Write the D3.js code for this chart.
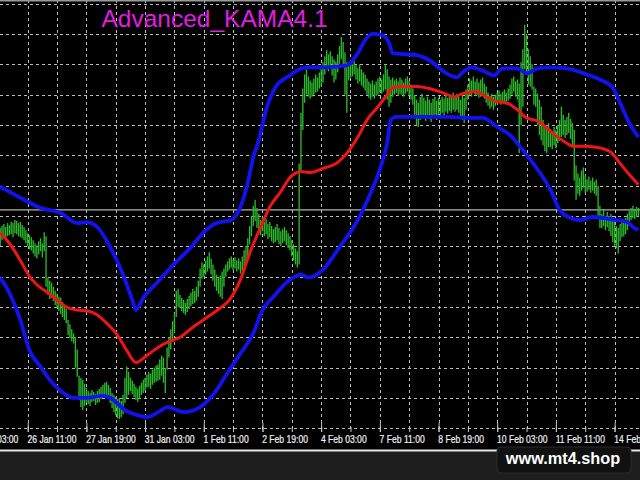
<!DOCTYPE html>
<html><head><meta charset="utf-8">
<script src="https://cdn.jsdelivr.net/npm/d3@7/dist/d3.min.js"></script>
<style>html,body{margin:0;padding:0;background:#000;overflow:hidden}</style>
</head><body><svg id="c" width="640" height="480"></svg>
<script>
// EURUSD H1 bars (high / low), one per hour, left to right
const highs = [
1.1298,1.1300,1.1302,1.1299,1.1303,1.1301,1.1304,1.1303,1.1306,1.1305,
1.1303,1.1304,1.1301,1.1299,1.1296,1.1293,1.1291,1.1289,1.1286,1.1283,
1.1281,1.1285,1.1288,1.1283,1.1294,1.1290,1.1249,1.1246,1.1244,1.1240,
1.1236,1.1233,1.1230,1.1229,1.1225,1.1221,1.1218,1.1207,1.1203,1.1198,
1.1194,1.1190,1.1178,1.1152,1.1150,1.1148,1.1144,1.1140,1.1137,1.1135,
1.1138,1.1136,1.1134,1.1137,1.1139,1.1141,1.1143,1.1145,1.1146,1.1143,
1.1140,1.1135,1.1133,1.1131,1.1129,1.1130,1.1127,1.1133,1.1150,1.1161,
1.1156,1.1150,1.1147,1.1144,1.1141,1.1139,1.1142,1.1145,1.1148,1.1150,
1.1153,1.1156,1.1154,1.1158,1.1160,1.1162,1.1163,1.1168,1.1172,1.1170,
1.1160,1.1180,1.1190,1.1198,1.1206,1.1214,1.1236,1.1238,1.1232,1.1229,
1.1227,1.1224,1.1228,1.1231,1.1234,1.1238,1.1236,1.1240,1.1246,1.1258,
1.1264,1.1262,1.1266,1.1270,1.1274,1.1268,1.1262,1.1257,1.1252,1.1249,
1.1251,1.1255,1.1258,1.1262,1.1265,1.1268,1.1270,1.1267,1.1269,1.1266,
1.1268,1.1265,1.1270,1.1276,1.1280,1.1288,1.1300,1.1310,1.1320,1.1326,
1.1318,1.1312,1.1306,1.1309,1.1304,1.1307,1.1302,1.1304,1.1300,1.1297,
1.1299,1.1302,1.1298,1.1295,1.1297,1.1299,1.1296,1.1293,1.1290,1.1286,
1.1282,1.1278,1.1275,1.1362,1.1412,1.1436,1.1450,1.1455,1.1448,1.1444,
1.1442,1.1446,1.1450,1.1447,1.1452,1.1458,1.1462,1.1468,1.1474,1.1470,
1.1473,1.1468,1.1465,1.1463,1.1470,1.1478,1.1487,1.1482,1.1472,1.1462,
1.1458,1.1463,1.1460,1.1464,1.1459,1.1456,1.1460,1.1455,1.1452,1.1450,
1.1446,1.1443,1.1441,1.1444,1.1440,1.1443,1.1446,1.1448,1.1445,1.1450,
1.1460,1.1455,1.1448,1.1445,1.1447,1.1444,1.1446,1.1443,1.1447,1.1445,
1.1442,1.1446,1.1448,1.1444,1.1440,1.1436,1.1430,1.1425,1.1422,1.1428,
1.1431,1.1427,1.1424,1.1428,1.1425,1.1422,1.1426,1.1428,1.1424,1.1427,
1.1425,1.1428,1.1426,1.1429,1.1427,1.1430,1.1428,1.1432,1.1429,1.1431,
1.1428,1.1425,1.1430,1.1427,1.1435,1.1440,1.1446,1.1444,1.1448,1.1443,
1.1446,1.1442,1.1445,1.1447,1.1441,1.1438,1.1432,1.1429,1.1431,1.1428,
1.1430,1.1432,1.1434,1.1431,1.1433,1.1435,1.1432,1.1436,1.1440,1.1446,
1.1448,1.1443,1.1445,1.1441,1.1462,1.1475,1.1499,1.1490,1.1475,1.1468,
1.1460,1.1438,1.1436,1.1431,1.1425,1.1418,1.1405,1.1400,1.1398,1.1402,
1.1396,1.1394,1.1398,1.1395,1.1400,1.1405,1.1418,1.1410,1.1405,1.1408,
1.1412,1.1406,1.1402,1.1395,1.1360,1.1352,1.1348,1.1355,1.1358,1.1350,
1.1346,1.1349,1.1345,1.1348,1.1344,1.1346,1.1340,1.1320,1.1312,1.1316,
1.1310,1.1314,1.1310,1.1312,1.1305,1.1308,1.1300,1.1298,1.1302,1.1306,
1.1303,1.1308,1.1312,1.1315,1.1318,1.1320,1.1317,1.1319,1.1318];
const lows = [
1.1280,1.1286,1.1289,1.1287,1.1290,1.1291,1.1292,1.1289,1.1293,1.1292,
1.1290,1.1289,1.1288,1.1286,1.1283,1.1280,1.1277,1.1276,1.1273,1.1270,
1.1268,1.1272,1.1275,1.1269,1.1275,1.1240,1.1232,1.1228,1.1229,1.1226,
1.1222,1.1219,1.1216,1.1213,1.1210,1.1207,1.1204,1.1192,1.1189,1.1186,
1.1184,1.1160,1.1151,1.1128,1.1121,1.1118,1.1122,1.1125,1.1124,1.1122,
1.1126,1.1127,1.1123,1.1125,1.1126,1.1129,1.1130,1.1132,1.1131,1.1130,
1.1125,1.1120,1.1116,1.1113,1.1110,1.1109,1.1111,1.1114,1.1125,1.1130,
1.1133,1.1137,1.1134,1.1131,1.1128,1.1126,1.1129,1.1133,1.1135,1.1137,
1.1140,1.1141,1.1139,1.1143,1.1145,1.1146,1.1147,1.1148,1.1152,1.1145,
1.1135,1.1158,1.1170,1.1178,1.1186,1.1195,1.1210,1.1220,1.1219,1.1216,
1.1214,1.1212,1.1215,1.1218,1.1221,1.1223,1.1224,1.1226,1.1230,1.1240,
1.1248,1.1250,1.1252,1.1255,1.1258,1.1252,1.1246,1.1240,1.1236,1.1233,
1.1230,1.1228,1.1240,1.1250,1.1255,1.1257,1.1259,1.1256,1.1258,1.1255,
1.1257,1.1253,1.1256,1.1260,1.1265,1.1270,1.1282,1.1290,1.1300,1.1305,
1.1298,1.1294,1.1291,1.1295,1.1290,1.1292,1.1287,1.1289,1.1285,1.1283,
1.1284,1.1286,1.1282,1.1280,1.1283,1.1285,1.1281,1.1278,1.1276,1.1270,
1.1266,1.1262,1.1259,1.1262,1.1355,1.1395,1.1422,1.1430,1.1428,1.1426,
1.1428,1.1430,1.1432,1.1433,1.1436,1.1438,1.1442,1.1450,1.1455,1.1453,
1.1456,1.1449,1.1442,1.1445,1.1452,1.1460,1.1465,1.1460,1.1430,1.1412,
1.1444,1.1447,1.1448,1.1450,1.1445,1.1441,1.1443,1.1439,1.1437,1.1434,
1.1430,1.1427,1.1425,1.1428,1.1426,1.1429,1.1430,1.1432,1.1431,1.1433,
1.1435,1.1425,1.1418,1.1422,1.1428,1.1430,1.1432,1.1429,1.1431,1.1430,
1.1428,1.1431,1.1433,1.1429,1.1425,1.1420,1.1410,1.1400,1.1398,1.1405,
1.1410,1.1408,1.1404,1.1410,1.1406,1.1403,1.1407,1.1410,1.1405,1.1409,
1.1410,1.1412,1.1409,1.1413,1.1411,1.1414,1.1412,1.1415,1.1413,1.1415,
1.1412,1.1408,1.1405,1.1402,1.1415,1.1425,1.1430,1.1428,1.1432,1.1429,
1.1430,1.1427,1.1428,1.1430,1.1426,1.1422,1.1419,1.1416,1.1418,1.1415,
1.1419,1.1421,1.1423,1.1420,1.1422,1.1423,1.1420,1.1424,1.1426,1.1430,
1.1433,1.1428,1.1425,1.1372,1.1400,1.1418,1.1455,1.1450,1.1440,1.1438,
1.1435,1.1420,1.1418,1.1400,1.1390,1.1385,1.1380,1.1374,1.1372,1.1378,
1.1378,1.1376,1.1380,1.1377,1.1382,1.1384,1.1388,1.1390,1.1387,1.1390,
1.1392,1.1386,1.1380,1.1345,1.1326,1.1332,1.1330,1.1335,1.1338,1.1333,
1.1334,1.1336,1.1333,1.1335,1.1332,1.1330,1.1310,1.1298,1.1298,1.1300,
1.1296,1.1299,1.1295,1.1290,1.1284,1.1280,1.1278,1.1273,1.1285,1.1289,
1.1290,1.1292,1.1296,1.1300,1.1306,1.1308,1.1307,1.1309,1.1310];

// KAMA (red) sampled at bar indices
const kamaBars = [0,5,11,16,20,26,31,36,42,48,53,58,64,69,74,80,86,91,98,105,113,120,125,131,136,142,147,153,158,164,169,176,184,189,195,200,206,211,214,220,227,234,241,248,252,260,263,271,276,282,287,293,298,304,309,312,318,325,333,338,343,348];
const kamaValues = [1.1293,1.1283,1.1266,1.1250,1.1242,1.1234,1.1227,1.1220,1.1217,1.1216,1.1212,1.1204,1.1192,1.1177,1.1165,1.1172,1.1180,1.1185,1.1190,1.1200,1.1210,1.1219,1.1227,1.1247,1.1273,1.1299,1.1319,1.1334,1.1348,1.1354,1.1353,1.1357,1.1363,1.1372,1.1388,1.1405,1.1418,1.1430,1.1437,1.1438,1.1438,1.1436,1.1432,1.1428,1.1431,1.1433,1.1430,1.1423,1.1422,1.1415,1.1407,1.1404,1.1397,1.1388,1.1382,1.1379,1.1379,1.1378,1.1373,1.1362,1.1351,1.1341];

// Upper band (blue)
const upperBars = [0,11,22,33,42,47,53,60,67,72,74,78,86,94,104,111,118,126,131,135,138,141,145,150,158,162,167,176,189,195,199,203,208,212,214,220,227,234,241,249,252,257,263,269,274,282,287,293,300,309,318,327,334,338,343,348];
const upperValues = [1.1339,1.1328,1.1318,1.1313,1.1303,1.1304,1.1299,1.1279,1.1252,1.1227,1.1217,1.1229,1.1245,1.1261,1.1279,1.1294,1.1303,1.1306,1.1319,1.1343,1.1368,1.1385,1.1415,1.1437,1.1449,1.1454,1.1457,1.1457,1.1459,1.1471,1.1484,1.1490,1.1489,1.1481,1.1471,1.1470,1.1469,1.1464,1.1454,1.1447,1.1452,1.1457,1.1454,1.1449,1.1456,1.1456,1.1451,1.1456,1.1457,1.1456,1.1451,1.1445,1.1437,1.1422,1.1402,1.1388];

// Lower band (blue)
const lowerBars = [0,5,11,16,22,27,33,40,47,56,61,68,75,80,87,91,100,109,116,124,131,138,143,149,156,164,168,176,185,195,202,207,211,213,216,230,245,256,263,271,278,285,293,300,305,311,316,323,329,336,342,345,348];
const lowerValues = [1.1249,1.1234,1.1207,1.1177,1.1161,1.1148,1.1137,1.1130,1.1130,1.1132,1.1129,1.1118,1.1113,1.1111,1.1117,1.1121,1.1116,1.1121,1.1133,1.1155,1.1174,1.1194,1.1217,1.1230,1.1244,1.1252,1.1249,1.1257,1.1279,1.1306,1.1333,1.1356,1.1382,1.1405,1.1408,1.1408,1.1408,1.1407,1.1407,1.1398,1.1390,1.1375,1.1356,1.1336,1.1316,1.1308,1.1306,1.1309,1.1308,1.1306,1.1304,1.1299,1.1296];

const tickBars = [-17,15,47,79,111,143,175,207,239,271,303,335];
const tickLabels = ["25 Jan 03:00","26 Jan 11:00","27 Jan 19:00","31 Jan 03:00","1 Feb 11:00","2 Feb 19:00","4 Feb 03:00","7 Feb 11:00","8 Feb 19:00","10 Feb 03:00","11 Feb 11:00","14 Feb 19:00"];
const gridPrices = [1.1100,1.1130,1.1160,1.1190,1.1220,1.1250,1.1280,1.1310,1.1340,1.1370,1.1400,1.1430,1.1460,1.1490,1.1520];
const bidPrice = 1.1316;
const titleText = "Advanced_KAMA4.1";
const watermarkText = "www.mt4.shop";

const svg = d3.select("#c");
const W = 640, plotBottom = 432;
const x = d3.scaleLinear().domain([0, 348]).range([0.2, 0.2 + 348 * 1.834]);
const y = d3.scaleLinear().domain([1.1100, 1.15236]).range([428.3, 0]);

svg.append("rect").attr("width", W).attr("height", 480).attr("fill", "#000");
svg.append("rect").attr("y", 451).attr("width", W).attr("height", 29).attr("fill", "#1e1e1e");

const clip = svg.append("defs").append("clipPath").attr("id", "pc");
clip.append("rect").attr("width", W).attr("height", plotBottom);
const g = svg.append("g").attr("clip-path", "url(#pc)");

// grid
const gridBars = d3.range(-1, 352, 16);
g.selectAll("line.hg").data(gridPrices).join("line")
  .attr("x1", 0).attr("x2", W).attr("y1", d => Math.round(y(d)) + 0.5).attr("y2", d => Math.round(y(d)) + 0.5)
  .attr("stroke", "#bdbdbd").attr("stroke-width", 1).attr("stroke-dasharray", "3,3");
g.selectAll("line.vg").data(gridBars).join("line")
  .attr("x1", d => Math.round(x(d)) + 0.5).attr("x2", d => Math.round(x(d)) + 0.5)
  .attr("y1", 0).attr("y2", plotBottom)
  .attr("stroke", "#bdbdbd").attr("stroke-width", 1).attr("stroke-dasharray", "3,3");

// bid line
g.append("line").attr("x1", 0).attr("x2", W)
  .attr("y1", y(bidPrice)).attr("y2", y(bidPrice))
  .attr("stroke", "#b4b4b4").attr("stroke-width", 1.2);

// bars
g.selectAll("line.bar").data(highs).join("line")
  .attr("x1", (d, i) => x(i)).attr("x2", (d, i) => x(i))
  .attr("y1", d => y(d)).attr("y2", (d, i) => y(lows[i]))
  .attr("stroke", "#2cb82c").attr("stroke-width", 1.35);

// indicator lines
const line = d3.line().x(d => x(d[0])).y(d => y(d[1])).curve(d3.curveMonotoneX);
g.append("path").datum(upperBars.map((b, i) => [b, upperValues[i]]))
  .attr("d", line).attr("fill", "none").attr("stroke", "#1212ee").attr("stroke-width", 3.8).attr("stroke-linejoin", "round");
g.append("path").datum(lowerBars.map((b, i) => [b, lowerValues[i]]))
  .attr("d", line).attr("fill", "none").attr("stroke", "#1212ee").attr("stroke-width", 3.8).attr("stroke-linejoin", "round");
g.append("path").datum(kamaBars.map((b, i) => [b, kamaValues[i]]))
  .attr("d", line).attr("fill", "none").attr("stroke", "#f01414").attr("stroke-width", 3).attr("stroke-linejoin", "round");

// top border
svg.append("line").attr("x1", 0).attr("x2", W).attr("y1", 0.5).attr("y2", 0.5).attr("stroke", "#9a9a9a").attr("stroke-width", 2);

// title
svg.append("text").attr("x", 101.5).attr("y", 26.7).text(titleText)
  .attr("font-family", "'Liberation Sans', Arial, sans-serif").attr("font-size", 24.5).attr("fill", "#e21ee2");

// minor ticks at grid positions
const minorAxis = d3.axisBottom(x).tickValues(gridBars).tickSize(-5).tickFormat("");
const ma = svg.append("g").attr("transform", `translate(0,${plotBottom})`).call(minorAxis);
ma.select(".domain").remove();
ma.selectAll("line").attr("stroke", "#c8c8c8");

// labeled axis
const axis = d3.axisBottom(x).tickValues(tickBars).tickSize(-9).tickFormat((d, i) => tickLabels[i]);
const ax = svg.append("g").attr("transform", `translate(0,${plotBottom})`).call(axis);
ax.select(".domain").remove();
ax.selectAll("line").attr("stroke", "#c8c8c8");
ax.selectAll("text")
  .attr("text-anchor", "start").attr("x", -1).attr("y", 11).attr("dy", 0)
  .attr("transform", "scale(0.74,1)")
  .attr("fill", "#f0f0f0").attr("font-size", 11.6)
  .attr("font-family", "'Liberation Sans', Arial, sans-serif")
  .attr("stroke", "#f0f0f0").attr("stroke-width", 0.25);

// separator
svg.append("line").attr("x1", 0).attr("x2", W).attr("y1", 450.5).attr("y2", 450.5).attr("stroke", "#e6e6e6").attr("stroke-width", 2.2);

// watermark
svg.append("rect").attr("x", 497).attr("y", 447).attr("width", 134).attr("height", 26).attr("rx", 4)
  .attr("fill", "#111").attr("stroke", "#2a2a2a");
svg.append("text").attr("x", 563).attr("y", 463.5).attr("text-anchor", "middle").text(watermarkText)
  .attr("font-family", "'Liberation Sans', Arial, sans-serif").attr("font-weight", "bold").attr("font-size", 16.3).attr("fill", "#fff");
</script></body></html>
